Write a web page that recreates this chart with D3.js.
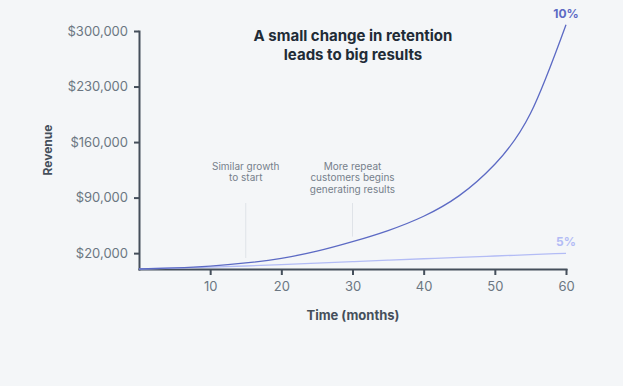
<!DOCTYPE html>
<html>
<head>
<meta charset="utf-8">
<script src="https://cdn.jsdelivr.net/npm/d3@7"></script>
<style>
  html, body { margin: 0; padding: 0; background: #f4f6f8; }
  body { width: 623px; height: 386px; overflow: hidden; font-family: Inter, "Noto Sans", sans-serif; }
  .axis path, .axis line { stroke: #454f5b; stroke-width: 2; }
  .axis text { fill: #6b7682; font-size: 13px; font-family: Inter, sans-serif; }
</style>
</head>
<body>
<div id="chart"></div>
<script>
// ── DATA ───────────────────────────────────────────────────────────────
const months      = [0, 5, 10, 15, 20, 25, 30, 35, 40, 45, 50, 55, 60];
const revenue10   = [0, 1400, 3700, 7600, 13500, 22500, 34500, 48500, 66500, 92500, 132000, 196000, 308000];
const revenue5    = [0, 1200, 2300, 3800, 5500, 7300, 9200, 11100, 12900, 14700, 16400, 18100, 19800];
const seriesNames = ["10%", "5%"];
const yTicks      = [20000, 90000, 160000, 230000, 300000];
const xTicks      = [10, 20, 30, 40, 50, 60];
const titleLines  = ["A small change in retention", "leads to big results"];
const notes = [
  { month: 15, lines: ["Similar growth", "to start"] },
  { month: 30, lines: ["More repeat", "customers begins", "generating results"] }
];

(function () {
  const width = 623, height = 386;
  const colors = { "10%": "#5c6ac4", "5%": "#b3bcf5" };

  const svg = d3.select("#chart").append("svg")
    .attr("width", width).attr("height", height);

  // ── SCALES ───────────────────────────────────────────────────────────
  const x = d3.scaleLinear().domain([0, 60]).range([139, 566]);
  const y = d3.scaleLinear().domain([0, 300000]).range([269, 31]);

  // ── AXES ─────────────────────────────────────────────────────────────
  svg.append("g").attr("class", "axis")
    .attr("transform", "translate(0,269)")
    .call(d3.axisBottom(x).tickValues(xTicks).tickSize(6).tickSizeOuter(0).tickPadding(7));

  svg.append("g").attr("class", "axis")
    .attr("transform", "translate(139,0)")
    .call(d3.axisLeft(y).tickValues(yTicks).tickSize(5).tickSizeOuter(0).tickPadding(6)
      .tickFormat(d => "$" + d3.format(",")(d)));

  svg.selectAll(".axis .domain").attr("stroke-linecap", "square");

  // axis titles
  svg.append("text")
    .attr("transform", "translate(52,150) rotate(-90)")
    .attr("text-anchor", "middle")
    .attr("fill", "#454f5b").attr("font-size", 12).attr("font-weight", 700)
    .text("Revenue");

  svg.append("text")
    .attr("x", 353).attr("y", 320)
    .attr("text-anchor", "middle")
    .attr("fill", "#454f5b").attr("font-size", 13).attr("font-weight", 700)
    .text("Time (months)");

  // ── TITLE ────────────────────────────────────────────────────────────
  svg.append("text")
    .attr("x", 353).attr("y", 41)
    .attr("text-anchor", "middle")
    .attr("fill", "#212b36").attr("font-size", 15).attr("font-weight", 700)
    .selectAll("tspan").data(titleLines).enter().append("tspan")
    .attr("x", 353).attr("dy", (d, i) => i ? 19 : 0)
    .text(d => d);

  // ── ANNOTATIONS ──────────────────────────────────────────────────────
  const series = { "10%": revenue10, "5%": revenue5 };
  notes.forEach(n => {
    const idx = months.indexOf(n.month);
    svg.append("line")
      .attr("x1", x(n.month)).attr("x2", x(n.month))
      .attr("y1", 203).attr("y2", y(revenue10[idx]) - 5)
      .attr("stroke", "#dfe3e8").attr("stroke-width", 1);
    svg.append("text")
      .attr("text-anchor", "middle")
      .attr("fill", "#76808b").attr("font-size", 10)
      .selectAll("tspan").data(n.lines).enter().append("tspan")
      .attr("x", x(n.month)).attr("y", (d, i) => 169.5 + i * 11.8)
      .text(d => d);
  });

  // ── LINES ────────────────────────────────────────────────────────────
  const line = d3.line()
    .x((d, i) => x(months[i]))
    .y(d => y(d))
    .curve(d3.curveNatural);

  seriesNames.slice().reverse().forEach(name => {
    svg.append("path")
      .datum(series[name])
      .attr("fill", "none")
      .attr("stroke", colors[name])
      .attr("stroke-width", 1.3)
      .attr("d", line);
  });

  // series labels at the line ends
  seriesNames.forEach(name => {
    const vals = series[name];
    svg.append("text")
      .attr("x", x(months[months.length - 1]))
      .attr("y", y(vals[vals.length - 1]) - 7)
      .attr("text-anchor", "middle")
      .attr("fill", colors[name]).attr("font-size", 12).attr("font-weight", 700)
      .text(name);
  });
})();
</script>
</body>
</html>
